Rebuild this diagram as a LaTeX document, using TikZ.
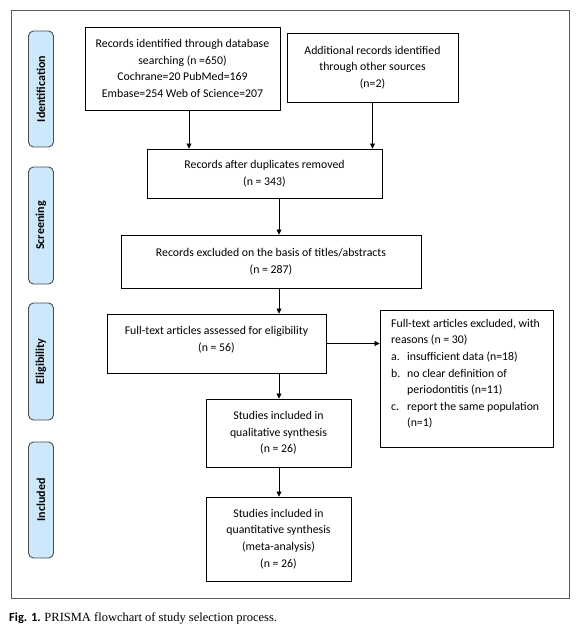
\documentclass[tikz,border=0pt]{standalone}
\usepackage{fontspec}
\setmainfont{Carlito}
\newfontfamily\capserif{Liberation Serif}
\usetikzlibrary{arrows.meta}
\definecolor{sideblue}{RGB}{204,232,250}
\definecolor{framegray}{RGB}{90,90,90}
\begin{document}
\begin{tikzpicture}[x=1pt,y=-1pt,
  box/.style={draw=black,line width=0.9pt,align=center,inner sep=0pt,font=\fontsize{11.8}{16.7}\selectfont},
  txt/.style={align=center,inner sep=0pt,font=\fontsize{11.8}{16.7}\selectfont},
  side/.style={draw=gray!60!black,line width=0.9pt,fill=sideblue,rounded corners=5pt,inner sep=0pt,font=\fontsize{12}{14}\selectfont\bfseries},
  arr/.style={-{Triangle[length=5pt,width=5pt]},line width=0.7pt}]
\useasboundingbox (0,0) rectangle (580,629);
\draw[framegray,line width=0.8pt] (11.5,10) rectangle (569,598);

% side labels
\node[side,rotate=90,minimum width=116pt,minimum height=25pt] (s1) at (41,89) {Identification};
\node[side,rotate=90,minimum width=117pt,minimum height=25pt] (s2) at (41,225.5) {Screening};
\node[side,rotate=90,minimum width=117pt,minimum height=25pt] (s3) at (41,361.5) {Eligibility};
\node[side,rotate=90,minimum width=116pt,minimum height=25pt] (s4) at (41,500) {Included};

% boxes
\node[box,minimum width=195pt,minimum height=83pt] (b1) at (182.5,68.5)
  {Records identified through database\\searching (n =650)\\Cochrane=20 PubMed=169\\Embase=254 Web of Science=207};
\node[box,minimum width=171pt,minimum height=69pt] (b2) at (372.5,67.5)
  {Additional records identified\\through other sources\\(n=2)};
\node[box,minimum width=235pt,minimum height=49pt] (b3) at (264.5,173.5)
  {Records after duplicates removed\\(n = 343)};
\node[box,minimum width=300pt,minimum height=53pt] (b4) at (271,261.5)
  {Records excluded on the basis of titles/abstracts\\(n = 287)};
\node[box,minimum width=219pt,minimum height=59pt] (b5) at (216.5,343.5) {};
\node[txt] (t5) at (216.5,340)
  {Full-text articles assessed for eligibility\\(n = 56)};
\node[box,minimum width=173pt,minimum height=137pt] (b6) at (466.5,378.5) {};
\node[anchor=north west,inner sep=0pt,align=left,font=\fontsize{11.8}{16.6}\selectfont] (t6) at (391,319)
  {Full-text articles excluded, with\\
   reasons (n = 30)\\
   \makebox[16pt][l]{a.}insufficient data (n=18)\\
   \makebox[16pt][l]{b.}no clear definition of\\
   \hspace*{16pt}periodontitis (n=11)\\
   \makebox[16pt][l]{c.}report the same population\\
   \hspace*{16pt}(n=1)};
\node[box,minimum width=145pt,minimum height=68pt] (b7) at (278.5,433)
  {Studies included in\\qualitative synthesis\\(n = 26)};
\node[box,minimum width=145pt,minimum height=84pt] (b8) at (278.5,539)
  {Studies included in\\quantitative synthesis\\(meta-analysis)\\(n = 26)};

% arrows
\coordinate (xa) at (189,0);
\coordinate (xc) at (279,0);
\draw[arr] (xa |- b1.south) -- (xa |- b3.north);
\draw[arr] (b2.south) -- (b2.south |- b3.north);
\draw[arr] (xc |- b3.south) -- (xc |- b4.north);
\draw[arr] (xc |- b4.south) -- (xc |- b5.north);
\draw[arr] (xc |- b5.south) -- (xc |- b7.north);
\draw[arr] (xc |- b7.south) -- (xc |- b8.north);
\draw[arr] (b5.east) -- (b5.east -| b6.west);

% caption
\node[anchor=west,inner sep=0pt,font=\fontsize{12.5}{14}\selectfont] (cap) at (9,618)
  {\textbf{Fig. 1.} {\capserif PRISMA flowchart of study selection process.}};
\end{tikzpicture}
\end{document}
